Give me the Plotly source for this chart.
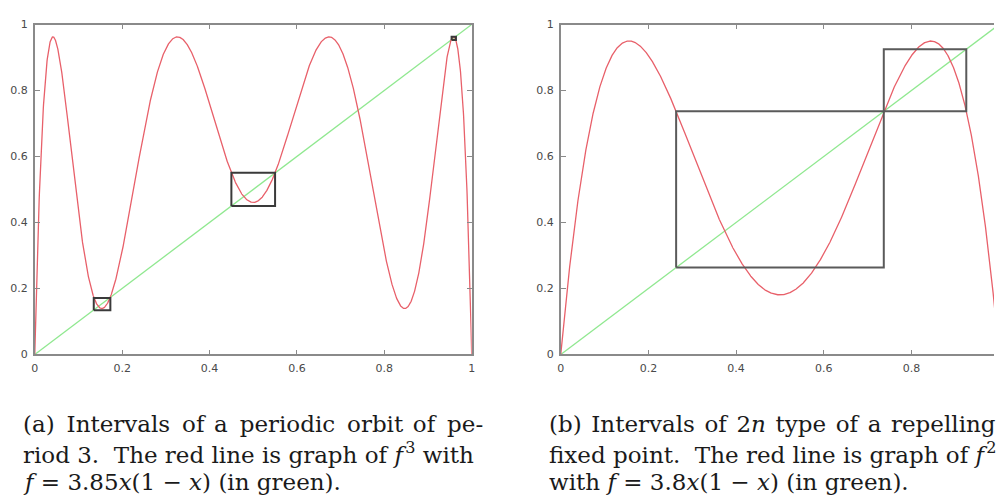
import numpy as np
import plotly.graph_objects as go

# Logistic-map parameters for the two panels
R_A = 3.85   # panel (a): third iterate
R_B = 3.8    # panel (b): second iterate
ITER_A = 3
ITER_B = 2

# Interval boxes [x0, x1, y0, y1]
BOXES_A = [
    [0.135, 0.173, 0.134, 0.171],
    [0.450, 0.550, 0.450, 0.551],
    [0.954, 0.964, 0.953, 0.963],
]
P_B = 1 - 1 / R_B          # repelling fixed point of f
Q_B = 0.925                # preimage interval end
BOXES_B = [
    [1 - P_B, P_B, 1 - P_B, P_B],
    [P_B, Q_B, P_B, Q_B],
]

TICK_VALS = [0, 0.2, 0.4, 0.6, 0.8, 1]
TICK_TEXT = ["0", "0.2", "0.4", "0.6", "0.8", "1"]

# Caption lines (thin/hair spaces widen justified lines)
TS, HS = "\u2009", "\u200a"
CAPTION_A = [
    f"(a){TS} Intervals{TS} of{HS} a{TS} periodic{TS} orbit{HS} of{TS} pe-",
    "riod 3.  The red line is graph of <i>f</i>\u200a<sup>3</sup> with",
    "<i>f</i> = 3.85<i>x</i>(1 − <i>x</i>) (in green).",
]
CAPTION_B = [
    f"(b){HS} Intervals{HS} of{HS} 2<i>n</i>{HS} type{HS} of{HS} a{HS} repelling",
    "fixed point.  The red line is graph of <i>f</i>\u200a<sup>2</sup>",
    "with <i>f</i> = 3.8<i>x</i>(1 − <i>x</i>) (in green).",
]

W, H = 998, 500
RED = "#e8606a"
GREEN = "#90e890"
FRAME = "#8a8a8a"


def iterate(x, r, n):
    for _ in range(n):
        x = r * x * (1 - x)
    return x


xs = np.linspace(0, 1, 2001)

fig = go.Figure()

panels = [
    ("x", "y", R_A, ITER_A, BOXES_A, "#3a3a3a"),
    ("x2", "y2", R_B, ITER_B, BOXES_B, "#5a5a5a"),
]
for xa, ya, r, n, boxes, bcol in panels:
    fig.add_trace(go.Scatter(x=[0, 1], y=[0, 1], mode="lines",
                             line=dict(color=GREEN, width=1.3),
                             xaxis=xa, yaxis=ya, hoverinfo="skip"))
    fig.add_trace(go.Scatter(x=xs, y=iterate(xs, r, n), mode="lines",
                             line=dict(color=RED, width=1.3),
                             xaxis=xa, yaxis=ya, hoverinfo="skip"))
    for x0, x1, y0, y1 in boxes:
        fig.add_trace(go.Scatter(x=[x0, x1, x1, x0, x0], y=[y0, y0, y1, y1, y0],
                                 mode="lines", line=dict(color=bcol, width=2),
                                 xaxis=xa, yaxis=ya, hoverinfo="skip"))

y_dom = [(H - 357.7) / H, (H - 19) / H]
left_px = (32, 472)
right_x0 = 561.7
right_scale = 441.5


def axis_common():
    return dict(
        tickvals=TICK_VALS, ticktext=TICK_TEXT, ticks="inside", ticklen=5,
        tickcolor=FRAME, tickwidth=1, showline=True, linecolor=FRAME, linewidth=1.5,
        showgrid=False, zeroline=False,
        tickfont=dict(family="DejaVu Sans", size=11, color="#4a4a4a"),
    )


fig.update_layout(
    width=W, height=H, margin=dict(l=0, r=0, t=0, b=0),
    paper_bgcolor="white", plot_bgcolor="white", showlegend=False,
    xaxis=dict(domain=[left_px[0] / W, left_px[1] / W], range=[0, 1],
               anchor="y", mirror="ticks", ticklabelstandoff=3, **axis_common()),
    yaxis=dict(domain=y_dom, range=[0, 1], anchor="x", mirror="ticks",
               ticklabelstandoff=3, **axis_common()),
    xaxis2=dict(domain=[right_x0 / W, 1.0], range=[0, (W - right_x0) / right_scale],
                anchor="y2", mirror="ticks", ticklabelstandoff=3, **axis_common()),
    yaxis2=dict(domain=y_dom, range=[0, 1], anchor="x2", mirror=False,
                ticklabelstandoff=3, **axis_common()),
)

line_y = [429, 459, 489]
for lines, x_px in ((CAPTION_A, 18), (CAPTION_B, 548)):
    for txt, ly in zip(lines, line_y):
        fig.add_annotation(
            text=txt, xref="paper", yref="paper", x=x_px / W, y=(H - ly) / H,
            xanchor="left", yanchor="middle", showarrow=False,
            font=dict(family="DejaVu Serif", size=23, color="#1a1a1a"),
        )

fig.write_html("out.html")
